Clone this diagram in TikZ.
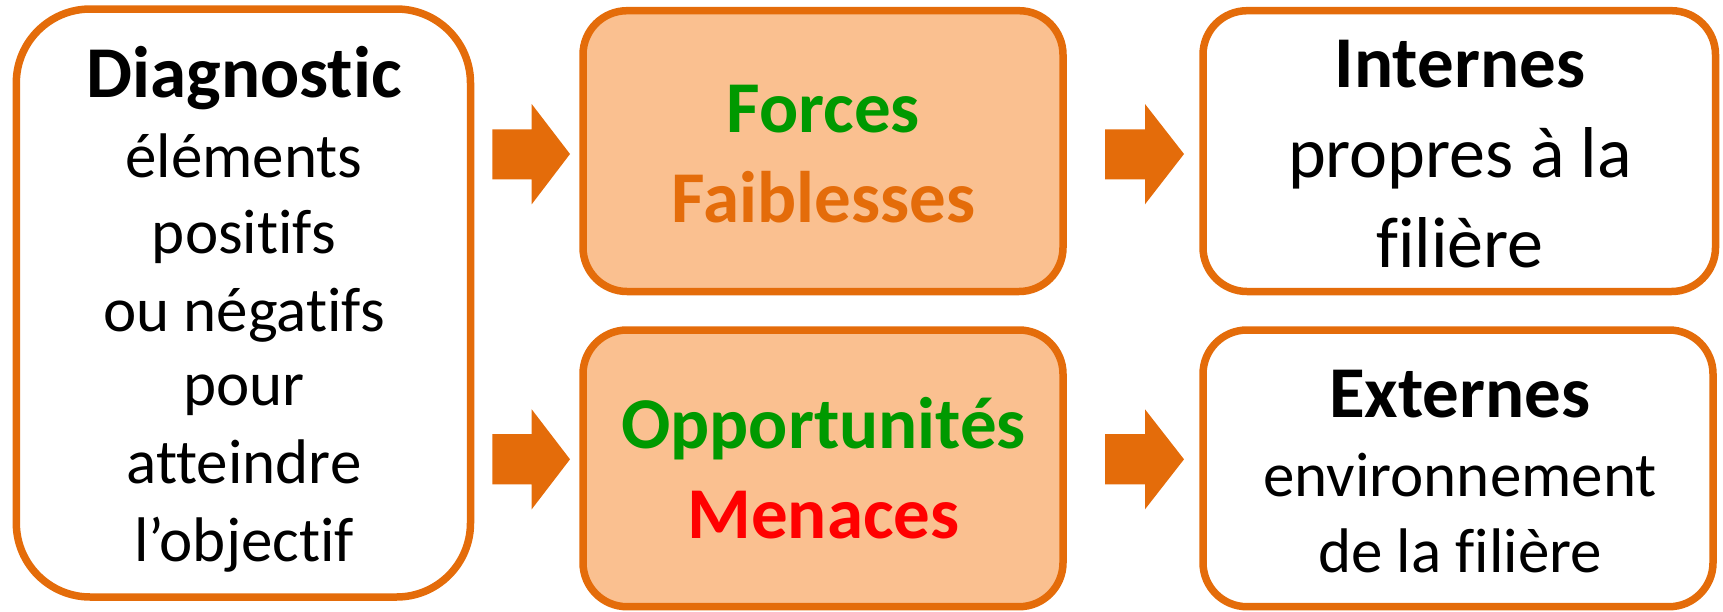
\documentclass[tikz,border=0pt]{standalone}
\usepackage{fontspec}
\setmainfont{Carlito}[Ligatures={NoCommon,NoContextual}]
\definecolor{orng}{HTML}{E46C0A}
\definecolor{peach}{HTML}{FAC090}
\definecolor{grn}{HTML}{009900}
\definecolor{rd}{HTML}{FF0000}
\begin{document}
\begin{tikzpicture}[x=0.5pt,y=-0.5pt,
  box/.style={draw=orng, line width=3.75pt, inner sep=0pt, outer sep=0pt},
  wbox/.style={box, fill=white, rounded corners=22pt},
  pbox/.style={box, fill=peach, rounded corners=22pt},
  ttl/.style={anchor=base, inner sep=0pt, font=\fontsize{36.5}{44}\selectfont\bfseries},
  bodyS/.style={anchor=base, inner sep=0pt, font=\fontsize{31.5}{38}\selectfont},
  bodyL/.style={anchor=base, inner sep=0pt, font=\fontsize{36}{44}\selectfont},
  blockarrow/.style={fill=orng}]
\useasboundingbox (0,0) rectangle (1723,611);

% boxes
\node[box, fill=white, rounded corners=37pt, minimum width=227.1pt, minimum height=294pt] (diag) at (243.4,303) {};
\node[pbox, minimum width=240pt, minimum height=140.4pt] (ff) at (823,151.1) {};
\node[pbox, minimum width=240pt, minimum height=138.35pt] (om) at (823,468.35) {};
\node[wbox, minimum width=256.25pt, minimum height=140.4pt] (int) at (1459.25,151.1) {};
\node[wbox, minimum width=255pt, minimum height=138.35pt] (ext) at (1458,468.35) {};

% block arrows
\fill[blockarrow] (492.3,129.3) -- (531.7,129.3) -- (531.7,104) -- (570,154) -- (531.7,204.3) -- (531.7,179.3) -- (492.3,179.3) -- cycle;
\fill[blockarrow] (492.3,434) -- (531.7,434) -- (531.7,409.3) -- (570,459.3) -- (531.7,509.3) -- (531.7,484.3) -- (492.3,484.3) -- cycle;
\fill[blockarrow] (1105,129.3) -- (1145,129.3) -- (1145,104) -- (1184,154) -- (1145,204.3) -- (1145,179.3) -- (1105,179.3) -- cycle;
\fill[blockarrow] (1105,434) -- (1145,434) -- (1145,409.3) -- (1184,459.3) -- (1145,509.3) -- (1145,484.3) -- (1105,484.3) -- cycle;

% left box text
\node[ttl] (d1) at (244,97.4) {Diagnostic};
\node[bodyS] (d2) at (244,177.3) {éléments};
\node[bodyS] (d3) at (244,253.3) {positifs};
\node[bodyS] (d4) at (244,331) {ou négatifs};
\node[bodyS] (d5) at (244,405.3) {pour};
\node[bodyS] (d6) at (244,483.3) {atteindre};
\node[bodyS] (d7) at (244,561) {l’objectif};

% middle text
\node[ttl, text=grn] (f1) at (823.5,132.5) {Forces};
\node[ttl, text=orng] (f2) at (823.5,222.2) {Faiblesses};
\node[ttl, text=grn] (o1) at (823.5,448.2) {Opportunités};
\node[ttl, text=rd] (o2) at (823.5,538) {Menaces};

% right text
\node[ttl] (i1) at (1460,87.7) {Internes};
\node[bodyL] (i2) at (1460,177.3) {propres à la};
\node[bodyL] (i3) at (1460,267) {filière};
\node[ttl] (e1) at (1460,417) {Externes};
\node[bodyS] (e2) at (1460,496.9) {environnement};
\node[bodyS] (e3) at (1460,572.9) {de la filière};
\end{tikzpicture}
\end{document}
